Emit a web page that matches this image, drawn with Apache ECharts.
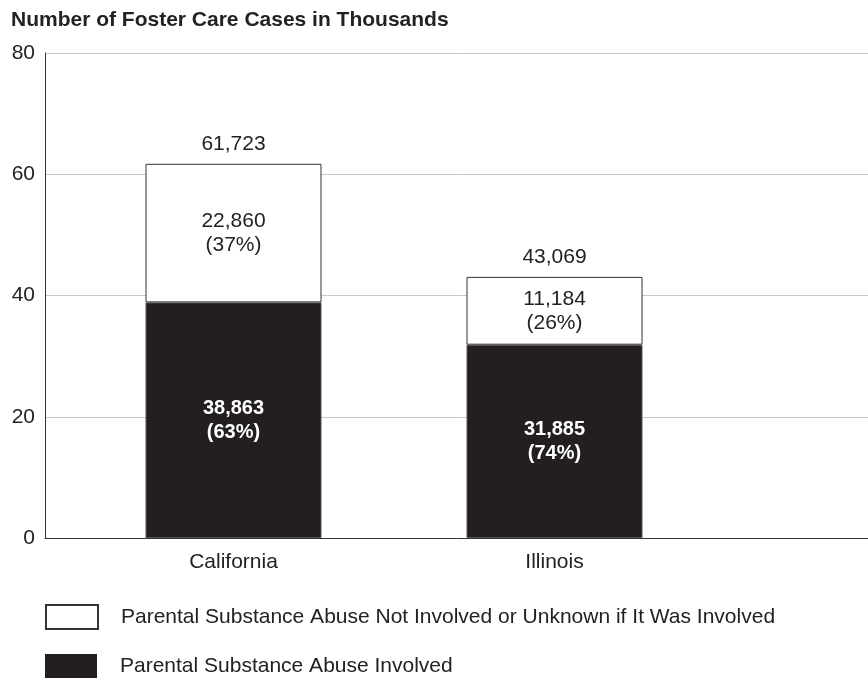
<!DOCTYPE html>
<html>
<head>
<meta charset="utf-8">
<script src="https://cdn.jsdelivr.net/npm/echarts@6/dist/echarts.min.js"></script>
<style>
  html, body { margin: 0; padding: 0; background: #fff; }
  #chart { width: 868px; height: 679px; }
</style>
</head>
<body>
<div id="chart"></div>
<script>
// data
const states = ['California', 'Illinois']
const involved = [38863, 31885]      // cases, substance abuse involved
const notInvolved = [22860, 11184]   // cases, not involved / unknown
const involvedPct = [63, 74]
const notInvolvedPct = [37, 26]
const yTicks = [0, 20, 40, 60, 80]

const totals = states.map((s, i) => involved[i] + notInvolved[i])
const fmt = n => n.toLocaleString('en-US')

const nameIn = 'Parental Substance Abuse Involved'
const nameOut = 'Parental Substance Abuse Not Involved or Unknown if It Was Involved'

const chart = echarts.init(document.getElementById('chart'))
const font = 'Liberation Sans, Arial, sans-serif'

const legendBase = {
  orient: 'vertical',
  left: 45,
  padding: 0,
  icon: 'rect',
  itemWidth: 52,
  itemHeight: 24,
  selectedMode: false,
  textStyle: { fontSize: 21, color: '#222', padding: [10, 0, 0, 18] }
}

chart.setOption({
  animation: false,
  textStyle: { fontFamily: font },
  title: {
    text: 'Number of Foster Care Cases in Thousands',
    left: 11,
    top: 10,
    padding: 0,
    textStyle: { fontSize: 21, fontWeight: 'bold', color: '#222', fontFamily: font }
  },
  legend: [
    Object.assign({}, legendBase, { top: 604, data: [nameOut] }),
    Object.assign({}, legendBase, {
      top: 654,
      data: [{ name: nameIn, itemStyle: { borderWidth: 0 } }]
    })
  ],
  grid: [
    // axis / gridline frame
    { left: 45, right: 0, top: 53, bottom: 141 },
    // bar placement (3 slots of 321px, last one off screen)
    { left: 73, width: 963, top: 53, bottom: 141, outerBoundsMode: 'none' }
  ],
  xAxis: [
    {
      gridIndex: 0,
      type: 'category',
      data: [''],
      axisLine: { lineStyle: { color: '#333', width: 1 } },
      axisTick: { show: false },
      axisLabel: { show: false }
    },
    {
      gridIndex: 1,
      type: 'category',
      data: states.concat(['']),
      axisLine: { show: false },
      axisTick: { show: false },
      axisLabel: { fontSize: 21, color: '#222', margin: 14 }
    }
  ],
  yAxis: [
    {
      gridIndex: 0,
      type: 'value',
      min: yTicks[0],
      max: yTicks[yTicks.length - 1],
      interval: 20,
      axisLine: { show: true, lineStyle: { color: '#333', width: 1 } },
      axisTick: { show: false },
      axisLabel: { fontSize: 21, color: '#222', margin: 10 },
      splitLine: { lineStyle: { color: '#c8c8c8', width: 1 } }
    },
    {
      gridIndex: 1,
      type: 'value',
      min: 0,
      max: 80,
      show: false
    }
  ],
  series: [
    {
      name: nameIn,
      type: 'bar',
      stack: 'total',
      xAxisIndex: 1,
      yAxisIndex: 1,
      barWidth: 176,
      data: involved.map(v => v / 1000),
      itemStyle: { color: '#231f20', borderColor: '#555', borderWidth: 1 },
      label: {
        show: true,
        position: 'inside',
        color: '#fff',
        fontSize: 20,
        fontWeight: 'bold',
        lineHeight: 24,
        formatter: p => fmt(involved[p.dataIndex]) + '\n(' + involvedPct[p.dataIndex] + '%)'
      }
    },
    {
      name: nameOut,
      type: 'bar',
      stack: 'total',
      xAxisIndex: 1,
      yAxisIndex: 1,
      barWidth: 176,
      data: notInvolved.map(v => v / 1000),
      itemStyle: { color: '#fff', borderColor: '#333', borderWidth: 1 },
      label: {
        show: true,
        position: 'inside',
        color: '#222',
        fontSize: 21,
        lineHeight: 24,
        formatter: p => fmt(notInvolved[p.dataIndex]) + '\n(' + notInvolvedPct[p.dataIndex] + '%)'
      }
    },
    {
      name: 'total',
      type: 'bar',
      stack: 'total',
      xAxisIndex: 1,
      yAxisIndex: 1,
      barWidth: 176,
      data: totals.map(() => 0),
      itemStyle: { color: 'transparent' },
      label: {
        show: true,
        position: 'top',
        distance: 9,
        color: '#222',
        fontSize: 21,
        formatter: p => fmt(totals[p.dataIndex])
      }
    }
  ]
})
</script>
</body>
</html>
